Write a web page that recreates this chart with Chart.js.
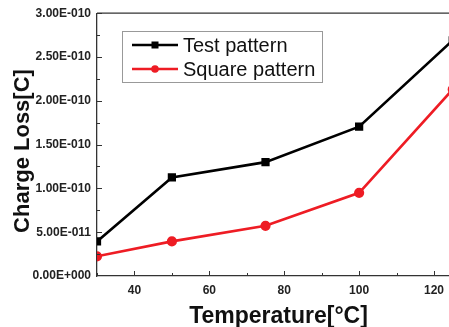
<!DOCTYPE html>
<html>
<head>
<meta charset="utf-8">
<script src="https://cdn.jsdelivr.net/npm/chart.js@4"></script>
<style>
  html, body { margin: 0; padding: 0; background: #fff; overflow: hidden; }
</style>
</head>
<body>
<canvas id="chargeChart" width="449" height="327"></canvas>
<script>
const temperatures = [30, 50, 75, 100, 125];
const testPattern = [3.95e-11, 1.125e-10, 1.30e-10, 1.705e-10, 2.69e-10];
const squarePattern = [2.25e-11, 3.95e-11, 5.73e-11, 9.5e-11, 2.13e-10];
const xTickValues = [40, 60, 80, 100, 120];
const seriesNames = ['Test pattern', 'Square pattern'];
const xTitle = 'Temperature[°C]';
const yTitle = 'Charge Loss[C]';

function sciLabel(v) {
    if (Math.abs(v) < 1e-20) return '0.00E+000';
    const parts = v.toExponential(2).split('e');
    const n = parseInt(parts[1], 10);
    return parts[0] + 'E' + (n < 0 ? '-' : '+') + String(Math.abs(n)).padStart(3, '0');
}

const FONT = "'Liberation Sans', Arial, sans-serif";

// inward tick marks, top border, axis titles and boxed legend
const framePlugin = {
    id: 'frame',
    afterDraw(chart) {
        const ctx = chart.ctx;
        const area = chart.chartArea;
        const xs = chart.scales.x;
        const ys = chart.scales.y;
        ctx.save();
        ctx.strokeStyle = '#333';
        ctx.lineWidth = 1.3;
        ctx.beginPath();
        ctx.moveTo(area.left, area.top);
        ctx.lineTo(area.right + 2, area.top);
        ctx.stroke();

        ctx.lineWidth = 1;
        ctx.beginPath();
        for (let v = 30; v <= xs.max; v += 10) {
            const px = Math.round(xs.getPixelForValue(v)) + 0.5;
            const len = v % 20 === 0 ? 5 : 3;
            ctx.moveTo(px, area.bottom);
            ctx.lineTo(px, area.bottom - len);
        }
        const step = 2.5e-11;
        for (let i = 1; i * step <= ys.max + 1e-15; i++) {
            const py = Math.round(ys.getPixelForValue(i * step)) + 0.5;
            const len = i % 2 === 0 ? 5 : 3;
            ctx.moveTo(area.left, py);
            ctx.lineTo(area.left + len, py);
        }
        ctx.stroke();

        // axis titles
        ctx.fillStyle = '#111';
        ctx.textAlign = 'center';
        ctx.textBaseline = 'alphabetic';
        ctx.font = 'bold 23px ' + FONT;
        ctx.fillText(xTitle, 278.5, 323);
        ctx.save();
        ctx.translate(28.5, 151);
        ctx.rotate(-Math.PI / 2);
        ctx.font = 'bold 22px ' + FONT;
        ctx.fillText(yTitle, 0, 0);
        ctx.restore();

        // legend box
        const bx = 122.5, by = 31.5, bw = 200, bh = 51;
        ctx.strokeStyle = '#999';
        ctx.lineWidth = 1;
        ctx.strokeRect(bx, by, bw, bh);
        const rows = [45, 69];
        chart.data.datasets.forEach((ds, i) => {
            const y = rows[i];
            ctx.strokeStyle = ds.borderColor;
            ctx.lineWidth = 2.6;
            ctx.beginPath();
            ctx.moveTo(132, y);
            ctx.lineTo(178, y);
            ctx.stroke();
            ctx.fillStyle = ds.borderColor;
            if (ds.pointStyle === 'rect') {
                ctx.fillRect(155 - 3.5, y - 3.5, 7, 7);
            } else {
                ctx.beginPath();
                ctx.arc(155, y, 3.8, 0, Math.PI * 2);
                ctx.fill();
            }
            ctx.fillStyle = '#111';
            ctx.font = '20px ' + FONT;
            ctx.textBaseline = 'middle';
            ctx.textAlign = 'left';
            ctx.fillText(ds.label, 183, y + 1);
        });
        ctx.restore();
    }
};

new Chart(document.getElementById('chargeChart'), {
    type: 'line',
    data: {
        labels: temperatures,
        datasets: [{
            label: seriesNames[0],
            data: temperatures.map((t, i) => ({ x: t, y: testPattern[i] })),
            borderColor: '#000000',
            backgroundColor: '#000000',
            borderWidth: 2.6,
            pointStyle: 'rect',
            pointRadius: 4,
            pointHoverRadius: 4,
            tension: 0
        }, {
            label: seriesNames[1],
            data: temperatures.map((t, i) => ({ x: t, y: squarePattern[i] })),
            borderColor: '#ee1c24',
            backgroundColor: '#ee1c24',
            borderWidth: 2.6,
            pointStyle: 'circle',
            pointRadius: 3.8,
            pointHoverRadius: 3.8,
            tension: 0
        }]
    },
    options: {
        responsive: false,
        animation: false,
        devicePixelRatio: 1,
        layout: { autoPadding: false, padding: { top: 12, right: 0, left: 0, bottom: 0 } },
        plugins: {
            legend: { display: false },
            tooltip: { enabled: false }
        },
        scales: {
            x: {
                type: 'linear',
                min: 30,
                max: 124,
                afterBuildTicks(scale) {
                    scale.ticks = xTickValues.map(v => ({ value: v }));
                },
                afterFit(scale) {
                    scale.height = 51;
                    scale.paddingLeft = 0;
                    scale.paddingRight = 0;
                },
                grid: { drawOnChartArea: false, drawTicks: false },
                border: { display: true, color: '#333', width: 1.3 },
                ticks: {
                    padding: 7,
                    color: '#222',
                    font: { family: FONT, size: 12, weight: 'bold' },
                    maxRotation: 0
                },
                title: { display: false }
            },
            y: {
                min: 0,
                max: 3e-10,
                afterFit(scale) { scale.width = 97; },
                grid: { drawOnChartArea: false, drawTicks: false },
                border: { display: true, color: '#333', width: 1.3 },
                ticks: {
                    stepSize: 5e-11,
                    padding: 6,
                    color: '#222',
                    font: { family: FONT, size: 12, weight: 'bold' },
                    callback: v => sciLabel(v)
                },
                title: { display: false }
            }
        }
    },
    plugins: [framePlugin]
});
</script>
</body>
</html>
